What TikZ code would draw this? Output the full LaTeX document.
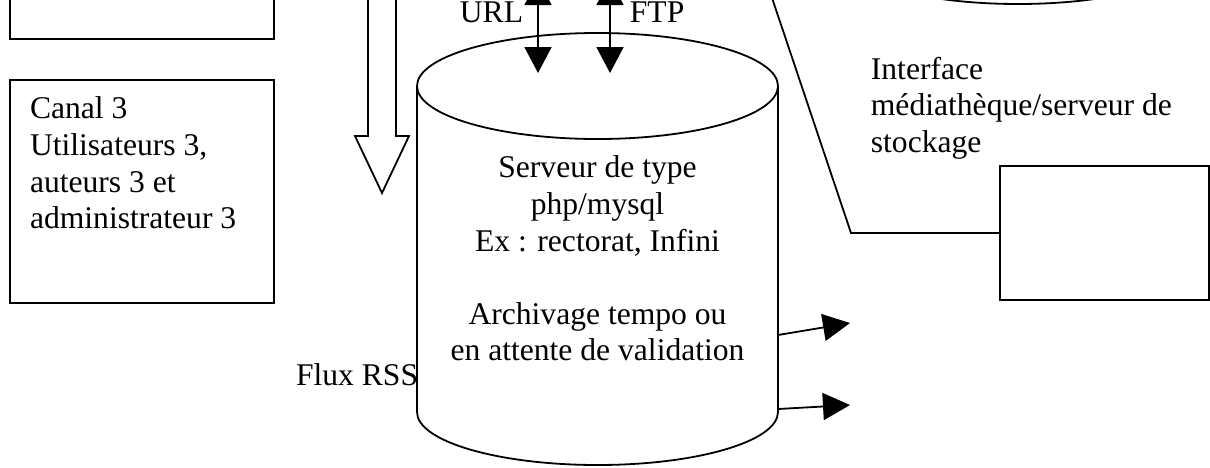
\documentclass[tikz,border=0pt]{standalone}
\usepackage{fontspec}
\setmainfont{Liberation Serif}
\usetikzlibrary{arrows.meta,positioning}

\begin{document}
\begin{tikzpicture}[x=0.5pt,y=-0.5pt,line width=0.9pt,
  every node/.style={font=\fontsize{15.8}{18.3}\selectfont,inner sep=0pt},
  boite/.style={draw,rectangle},
  pointe/.style={-{Triangle[length=13.5pt,width=13.5pt]}},
  dpointe/.style={{Triangle[length=13pt,width=13.5pt]}-{Triangle[length=13pt,width=13.5pt]}}]
\useasboundingbox (0,0) rectangle (1210,467);
\clip (0,0) rectangle (1210,467);
% Boxes on the left
\node[boite,minimum width=132pt,minimum height=69.5pt] (canal2) at (142,-30.5) {};
\node[boite,minimum width=132pt,minimum height=111.5pt] (canal3) at (142,191.5) {};
\node[anchor=north west,align=left] (canal3txt) at ([shift={(20,17)}]canal3.north west)
  {Canal 3\\Utilisateurs 3,\\auteurs 3 et\\administrateur 3};
% Hollow arrow
\draw (368,-10) -- (368,136) -- (355,136) -- (382,193) -- (409,136) -- (396,136) -- (396,-10);
% Server cylinder
\draw (417,86) -- (417,412) arc[start angle=180,end angle=0,x radius=180.5,y radius=53] -- (778,86);
\draw (597.5,86) ellipse[x radius=180.5,y radius=53];
\node[align=center,anchor=north] (srv) at (597.5,155)
  {Serveur de type\\php/mysql\\Ex : rectorat, Infini\\[18.3pt]Archivage tempo ou\\en attente de validation};
\coordinate (srvUrl) at (538,73);
\coordinate (srvFtp) at (610,73);
\coordinate (srvE1) at (778,335);
\coordinate (srvE2) at (778,409);
% Storage cylinder (top right, cut)
\draw (837.5,-120) -- (837.5,-49) arc[start angle=180,end angle=0,x radius=180.5,y radius=53] -- (1198.5,-120);
% URL and FTP
\coordinate (url) at (538,-21);
\coordinate (ftp) at (610,-21);
\draw[dpointe] (url) -- (srvUrl);
\draw[dpointe] (ftp) -- (srvFtp);
\node[anchor=base east] (urltxt) at (524,22) {URL};
\node[anchor=base west] (ftptxt) at (629,22) {FTP};
% Interface
\node[anchor=north west,align=left] (interface) at (870,56)
  {Interface\\médiathèque/serveur de\\stockage};
\node[boite,minimum width=104.5pt,minimum height=67pt] (stock) at (1104.5,233) {};
\coordinate (lienHaut) at (766,-20);
\draw (lienHaut) -- (851,233) -- (stock.west);
% Outputs
\coordinate (sortie1) at (850,323);
\coordinate (sortie2) at (850,405);
\draw[pointe] (srvE1) -- (sortie1);
\draw[pointe] (srvE2) -- (sortie2);
\node[anchor=base east] (rss) at (419,385) {Flux RSS};
\end{tikzpicture}
\end{document}
